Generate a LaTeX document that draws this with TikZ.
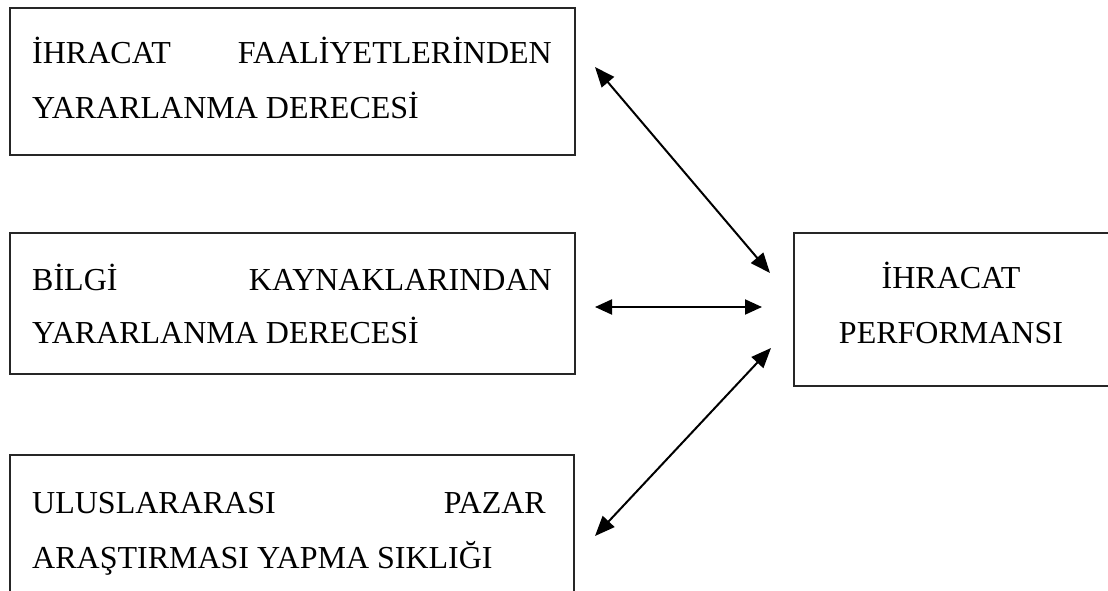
\documentclass[tikz,border=0pt]{standalone}
\usepackage{fontspec}
\setmainfont{Liberation Serif}
\usetikzlibrary{arrows.meta}
\tikzset{
  box/.style={draw=black!85, line width=2pt, rectangle, inner sep=0pt},
  txt/.style={inner sep=0pt, font=\fontsize{32}{55}\selectfont},
  conn/.style={line width=2pt, {Triangle[length=20pt,width=16pt]}-{Triangle[length=20pt,width=16pt]}},
  connh/.style={line width=2pt, {Triangle[length=17pt,width=15pt]}-{Triangle[length=17pt,width=15pt]}}
}
\begin{document}
\begin{tikzpicture}[x=1pt,y=-1pt]
\useasboundingbox (0,0) rectangle (1108,591);
\clip (0,0) rectangle (1108,591);
\fill[white] (0,0) rectangle (1108,591);
% boxes
\node[box, minimum width=565pt, minimum height=147pt] (b1) at (292.5,81.5) {};
\node[box, minimum width=565pt, minimum height=141pt] (b2) at (292.5,303.5) {};
\node[box, minimum width=564pt, minimum height=147pt] (b3) at (292,528.5) {};
\node[box, minimum width=316pt, minimum height=153pt] (b4) at (952,309.5) {};
% texts
\node[txt, anchor=base west] (t1a) at (32,64) {İHRACAT};
\node[txt, anchor=base east] (t1b) at (552,64) {FAALİYETLERİNDEN};
\node[txt, anchor=base west] (t1c) at (32,119) {YARARLANMA DERECESİ};
\node[txt, anchor=base west] (t2a) at (32,290) {BİLGİ};
\node[txt, anchor=base east] (t2b) at (552,290) {KAYNAKLARINDAN};
\node[txt, anchor=base west] (t2c) at (32,343) {YARARLANMA DERECESİ};
\node[txt, anchor=base west] (t3a) at (32,513) {ULUSLARARASI};
\node[txt, anchor=base east] (t3b) at (546,513) {PAZAR};
\node[txt, anchor=base west] (t3c) at (32,568) {ARAŞTIRMASI YAPMA SIKLIĞI};
\node[txt, anchor=base] (t4a) at (951,288) {İHRACAT};
\node[txt, anchor=base] (t4b) at (951,343) {PERFORMANSI};
% connector end points
\coordinate (a1s) at (595,67);
\coordinate (a1e) at (770,273);
\coordinate (a2s) at (595,307);
\coordinate (a2e) at (762,307);
\coordinate (a3s) at (595,536);
\coordinate (a3e) at (771,348);
\draw[conn] (a1s) -- (a1e);
\draw[connh] (a2s) -- (a2e);
\draw[conn] (a3s) -- (a3e);
\end{tikzpicture}
\end{document}
